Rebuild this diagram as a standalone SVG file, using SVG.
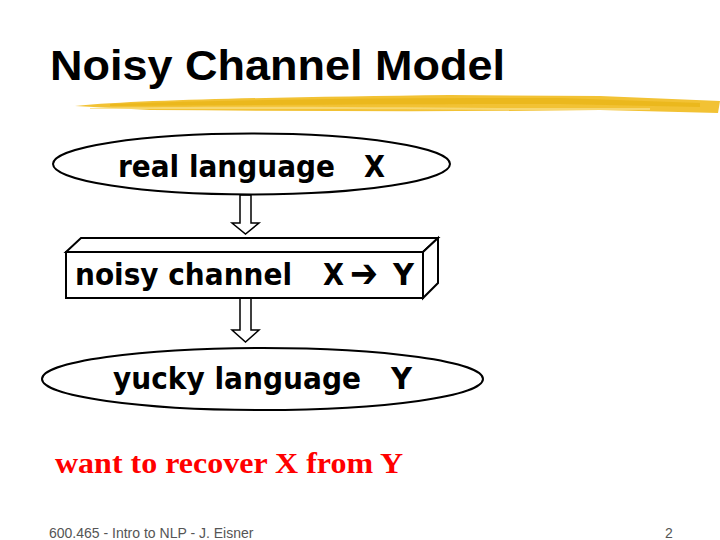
<svg xmlns="http://www.w3.org/2000/svg" width="720" height="540" viewBox="0 0 720 540">
<style>
.title{font-family:"Liberation Sans",Arial,sans-serif;font-weight:bold;font-size:42px;fill:#000}
.lbl{font-family:"DejaVu Sans",Verdana,sans-serif;font-weight:bold;font-size:31px;fill:#000}
.sym{font-family:"DejaVu Sans",sans-serif;font-weight:bold;font-size:40px;fill:#000}
.shape{fill:#fff;stroke:#000;stroke-width:2}
.arr{fill:#fff;stroke:#000;stroke-width:1.5;stroke-linejoin:miter}
.red{font-family:"Liberation Serif","Times New Roman",serif;font-weight:bold;font-size:30px;fill:#ff0000}
.foot{font-family:"Liberation Sans",Arial,sans-serif;font-size:14px;fill:#555}
</style>
<rect width="720" height="540" fill="#fff"/>
<g id="title">
<text class="title" x="50" y="80" textLength="455" lengthAdjust="spacingAndGlyphs">Noisy Channel Model</text>
<path d="M75,106 C150,99 300,97 450,95 L600,96 L720,101 L718,113 L600,110 C450,112 300,111 150,110 Z" fill="#f2c234"/>
<path d="M110,104 C250,99 400,98 560,98 L700,103 L700,107 L560,104 C400,104 250,105 110,106 Z" fill="#e8b414" opacity="0.7"/>
<path d="M90,108 C200,106 350,107 500,108 L650,108 L650,110 L500,110 C350,109 200,109 90,109 Z" fill="#f8dc80" opacity="0.8"/>
</g>
<g id="connectors">
<path class="arr" d="M240,195 L251,195 L251,223 L259,223 L245.5,234 L232,223 L240,223 Z"/>
<path class="arr" d="M240,298 L251,298 L251,330 L259,330 L245.5,342 L232,330 L240,330 Z"/>
</g>
<g id="real-language">
<ellipse class="shape" cx="251.5" cy="164" rx="198.5" ry="30.5"/>
<text class="lbl" x="118" y="177" textLength="217" lengthAdjust="spacingAndGlyphs">real language</text>
<text class="lbl" x="364" y="177" textLength="21" lengthAdjust="spacingAndGlyphs">X</text>
</g>
<g id="noisy-channel">
<polygon class="shape" points="66,252 81,238 438,238 423,252"/>
<polygon class="shape" points="423,252 438,238 438,283 423,298"/>
<rect class="shape" x="66" y="252" width="357" height="46"/>
<text class="lbl" x="75" y="285" textLength="217" lengthAdjust="spacingAndGlyphs">noisy channel</text>
<text class="lbl" x="323" y="285" textLength="21" lengthAdjust="spacingAndGlyphs">X</text>
<text class="sym" x="350" y="287" textLength="28" lengthAdjust="spacingAndGlyphs">➔</text>
<text class="lbl" x="393" y="285" textLength="21" lengthAdjust="spacingAndGlyphs">Y</text>
</g>
<g id="yucky-language">
<ellipse class="shape" cx="262.5" cy="379" rx="220.5" ry="31"/>
<text class="lbl" x="113" y="389" textLength="248" lengthAdjust="spacingAndGlyphs">yucky language</text>
<text class="lbl" x="391" y="389" textLength="21" lengthAdjust="spacingAndGlyphs">Y</text>
</g>
<g id="note">
<text class="red" x="55" y="473" textLength="348" lengthAdjust="spacingAndGlyphs">want to recover X from Y</text>
</g>
<g id="footer">
<text class="foot" x="49" y="538">600.465 - Intro to NLP - J. Eisner</text>
<text class="foot" x="665" y="538">2</text>
</g>
</svg>
